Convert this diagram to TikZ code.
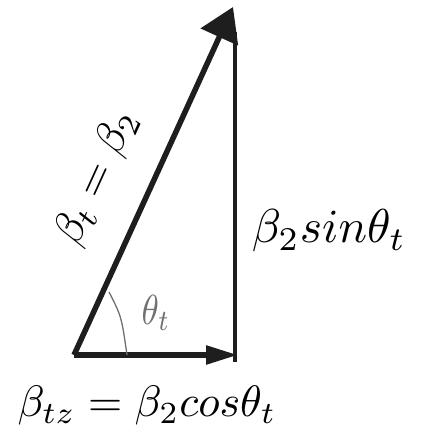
\documentclass[tikz,border=0pt]{standalone}
\usetikzlibrary{arrows.meta}
\definecolor{ink}{HTML}{1E1E1E}
\definecolor{soft}{HTML}{707070}
\begin{document}
\begin{tikzpicture}[x=1pt,y=1pt,
  vec/.style={draw=ink,line width=5.5pt},
  side/.style={draw=ink,line width=4pt},
  lab/.style={inner sep=0pt,scale=4.4},
  anglab/.style={inner sep=0pt,text=soft,xscale=3.5,yscale=4.2}]
\useasboundingbox (0,0) rectangle (421,432);
\coordinate (A) at (74,77);
\coordinate (B) at (235,77);
\coordinate (Bl) at (235,70);
\coordinate (C) at (233,425);
\coordinate (arcS) at (127,77);
\coordinate (arcC) at (121.5,115.5);
\coordinate (arcE) at (109,140);
\draw[side] (Bl) -- (235,400);
\draw[vec,-{Triangle[length=32pt,width=18pt]}] (A) -- (238,77);
\draw[vec,-{Triangle[length=33pt,width=40pt]}] (A) -- (C);
\draw[soft,line width=1.3pt] (arcS) .. controls (arcC) .. (arcE);
\node[anglab] (th) at (156,119) {$\theta_t$};
\node[lab,anchor=base] (bot) at (147,15) {$\beta_{tz} = \beta_2 cos\theta_t$};
\node[lab,scale=1.08,anchor=base] (rt) at (329,189) {$\beta_2 sin\theta_t$};
\node[lab,rotate=65.5] (hyp) at (97,254) {$\beta_t = \beta_2$};
\end{tikzpicture}
\end{document}
